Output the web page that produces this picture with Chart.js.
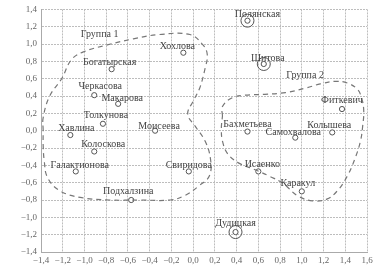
<!DOCTYPE html>
<html>
<head>
<meta charset="utf-8">
<script src="https://cdn.jsdelivr.net/npm/chart.js@4.4.1/dist/chart.umd.min.js"></script>
<style>
  html, body { margin: 0; padding: 0; background: #fff; }
  #wrap { width: 388px; height: 271px; }
</style>
</head>
<body>
<div id="wrap"><canvas id="chart"></canvas></div>
<script>
// Respondents (Russian surnames) and their coordinates on the two-factor plane
const names = ['Полянская', 'Хохлова', 'Шитова', 'Богатырская', 'Черкасова', 'Макарова',
    'Фиткевич', 'Толкунова', 'Моисеева', 'Бахметьева', 'Колышева', 'Хавлина', 'Самохвалова',
    'Колоскова', 'Галактионова', 'Свиридова', 'Исаенко', 'Каракул', 'Подхалзина', 'Дудицкая'];
const xVals = [0.50, -0.09, 0.65, -0.75, -0.91, -0.69,
    1.37, -0.83, -0.35, 0.50, 1.28, -1.13, 0.94,
    -0.91, -1.08, -0.04, 0.60, 1.00, -0.57, 0.39];
const yVals = [1.27, 0.90, 0.77, 0.71, 0.41, 0.31,
    0.25, 0.08, 0.00, -0.01, -0.02, -0.05, -0.08,
    -0.24, -0.47, -0.47, -0.47, -0.70, -0.80, -1.17];

// points drawn with an extra outer ring
const ringed = ['Полянская', 'Шитова', 'Дудицкая'];

// Dashed group outlines
const group1X = [-1.38, -1.38, -1.32, -1.21, -1.12, -1.01, -0.79, -0.55, -0.31, -0.03, 0.09, 0.13,
    0.11, 0.06, 0.00, -0.05, 0.02, 0.11, 0.16, 0.15, 0.06, -0.08, -0.21, -0.49, -0.77, -1.04,
    -1.23, -1.34, -1.37, -1.38];
const group1Y = [0.00, 0.15, 0.40, 0.60, 0.82, 0.91, 0.99, 1.06, 1.11, 1.11, 0.99, 0.88,
    0.72, 0.49, 0.34, 0.19, 0.05, -0.12, -0.33, -0.52, -0.63, -0.75, -0.80, -0.80, -0.80, -0.77,
    -0.69, -0.54, -0.35, -0.17];
const group2X = [0.27, 0.27, 0.36, 0.48, 0.66, 0.85, 1.03, 1.17, 1.31, 1.42, 1.51, 1.55, 1.57,
    1.56, 1.54, 1.49, 1.42, 1.33, 1.23, 1.10, 0.96, 0.83, 0.71, 0.57, 0.43, 0.32, 0.27, 0.26];
const group2Y = [0.17, 0.28, 0.38, 0.41, 0.42, 0.44, 0.49, 0.54, 0.57, 0.55, 0.48, 0.38, 0.23,
    0.05, -0.12, -0.32, -0.52, -0.69, -0.79, -0.81, -0.75, -0.61, -0.53, -0.45, -0.38, -0.27, -0.12, 0.03];

const groupNames = ['Группа 1', 'Группа 2'];
const groupLabelX = [-0.86, 1.03];
const groupLabelY = [1.11, 0.64];

// label offsets from each point, in pixels (layout only)
const labelOffsets = [[10, -6], [-6, -6], [4, -6], [-2, -7], [6, -9], [4, -5],
    [0, -9], [3, -8], [4, -4], [0, -7], [-3, -7], [6, -7], [-2, -5],
    [9, -7], [4, -6], [0, -6], [4, -7], [-4, -8], [-3, -9], [0, -9]];

const SERIF = "'Liberation Serif', 'DejaVu Serif', serif";
const INK = '#555';

const toPoints = (xs, ys) => xs.map((x, i) => ({ x, y: ys[i] }));
const closeLoop = pts => pts.concat([pts[0]]);

const fmt = v => {
    const s = Math.abs(v).toFixed(1).replace('.', ',');
    return (v < -0.001 ? '\u2212' : '') + s;
};

const labelPlugin = {
    id: 'pointLabels',
    afterDatasetsDraw(chart) {
        const { ctx, scales: { x, y } } = chart;
        ctx.save();
        ctx.font = '10px ' + SERIF;
        ctx.fillStyle = '#444';
        ctx.textAlign = 'center';
        ctx.textBaseline = 'middle';
        names.forEach((n, i) => {
            const px = x.getPixelForValue(xVals[i]) + labelOffsets[i][0];
            const py = y.getPixelForValue(yVals[i]) + labelOffsets[i][1];
            ctx.fillText(n, px, py);
        });
        groupNames.forEach((n, i) => {
            ctx.fillText(n, x.getPixelForValue(groupLabelX[i]), y.getPixelForValue(groupLabelY[i]));
        });
        ctx.restore();
    }
};

const points = toPoints(xVals, yVals);
const rings = points.filter((p, i) => ringed.includes(names[i]));

new Chart(document.getElementById('chart'), {
    type: 'scatter',
    data: {
        datasets: [
            {
                data: closeLoop(toPoints(group1X, group1Y)),
                showLine: true,
                tension: 0.4,
                borderColor: '#777',
                borderWidth: 1.2,
                borderDash: [5, 4],
                pointRadius: 0
            },
            {
                data: closeLoop(toPoints(group2X, group2Y)),
                showLine: true,
                tension: 0.4,
                borderColor: '#777',
                borderWidth: 1.2,
                borderDash: [5, 4],
                pointRadius: 0
            },
            {
                data: points,
                pointRadius: 2.6,
                pointBackgroundColor: '#fff',
                pointBorderColor: INK,
                pointBorderWidth: 1
            },
            {
                data: rings,
                pointRadius: 6.5,
                pointBackgroundColor: 'rgba(0,0,0,0)',
                pointBorderColor: INK,
                pointBorderWidth: 1
            }
        ]
    },
    options: {
        responsive: true,
        maintainAspectRatio: false,
        animation: false,
        layout: { padding: { top: 7, right: 21, left: 0, bottom: 0 } },
        plugins: {
            legend: { display: false },
            tooltip: { enabled: false }
        },
        scales: {
            x: {
                type: 'linear',
                min: -1.4,
                max: 1.6,
                afterFit: s => { s.height = 19; },
                ticks: {
                    stepSize: 0.2,
                    color: '#666',
                    font: { family: SERIF, size: 9 },
                    padding: 3,
                    maxRotation: 0,
                    autoSkip: false,
                    callback: v => fmt(v)
                },
                grid: { color: '#bdbdbd', lineWidth: 1, drawTicks: false },
                border: { display: true, color: '#aaa', dash: [2, 1] }
            },
            y: {
                type: 'linear',
                min: -1.4,
                max: 1.4,
                afterFit: s => { s.width = 41; },
                ticks: {
                    stepSize: 0.2,
                    color: '#666',
                    font: { family: SERIF, size: 9 },
                    padding: 4,
                    autoSkip: false,
                    callback: v => fmt(v)
                },
                grid: { color: '#bdbdbd', lineWidth: 1, drawTicks: false },
                border: { display: true, color: '#aaa', dash: [2, 1] }
            }
        }
    },
    plugins: [labelPlugin]
});
</script>
</body>
</html>
